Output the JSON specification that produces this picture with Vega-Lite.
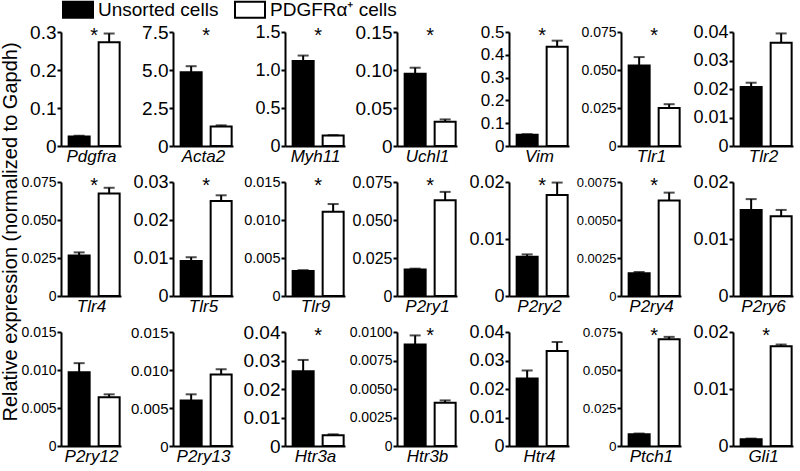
{
"$schema": "https://vega.github.io/schema/vega-lite/v6.json",
"padding": {"left": 0, "top": 0, "right": 2, "bottom": 2},
"background": "white",
"title": {"text": "Relative expression (normalized to Gapdh)", "orient": "left", "anchor": "middle", "fontSize": 20, "fontWeight": "normal", "font": "Liberation Sans", "color": "black", "offset": 0},
"data": {"values": [
{"gene":"Pdgfra","group":"Unsorted cells","mean":0.025,"hi":0.027,"sig":true},
{"gene":"Pdgfra","group":"PDGFRα⁺ cells","mean":0.273,"hi":0.296,"sig":true},
{"gene":"Acta2","group":"Unsorted cells","mean":4.85,"hi":5.25,"sig":true},
{"gene":"Acta2","group":"PDGFRα⁺ cells","mean":1.28,"hi":1.36,"sig":true},
{"gene":"Myh11","group":"Unsorted cells","mean":1.12,"hi":1.19,"sig":true},
{"gene":"Myh11","group":"PDGFRα⁺ cells","mean":0.137,"hi":0.143,"sig":true},
{"gene":"Uchl1","group":"Unsorted cells","mean":0.095,"hi":0.103,"sig":true},
{"gene":"Uchl1","group":"PDGFRα⁺ cells","mean":0.032,"hi":0.035,"sig":true},
{"gene":"Vim","group":"Unsorted cells","mean":0.049,"hi":0.052,"sig":true},
{"gene":"Vim","group":"PDGFRα⁺ cells","mean":0.435,"hi":0.462,"sig":true},
{"gene":"Tlr1","group":"Unsorted cells","mean":0.053,"hi":0.0585,"sig":true},
{"gene":"Tlr1","group":"PDGFRα⁺ cells","mean":0.025,"hi":0.0275,"sig":true},
{"gene":"Tlr2","group":"Unsorted cells","mean":0.0207,"hi":0.0222,"sig":false},
{"gene":"Tlr2","group":"PDGFRα⁺ cells","mean":0.0362,"hi":0.0395,"sig":false},
{"gene":"Tlr4","group":"Unsorted cells","mean":0.0267,"hi":0.0287,"sig":true},
{"gene":"Tlr4","group":"PDGFRα⁺ cells","mean":0.0674,"hi":0.0712,"sig":true},
{"gene":"Tlr5","group":"Unsorted cells","mean":0.0092,"hi":0.0102,"sig":true},
{"gene":"Tlr5","group":"PDGFRα⁺ cells","mean":0.025,"hi":0.0265,"sig":true},
{"gene":"Tlr9","group":"Unsorted cells","mean":0.0033,"hi":0.0034,"sig":true},
{"gene":"Tlr9","group":"PDGFRα⁺ cells","mean":0.0111,"hi":0.0121,"sig":true},
{"gene":"P2ry1","group":"Unsorted cells","mean":0.0174,"hi":0.018,"sig":true},
{"gene":"P2ry1","group":"PDGFRα⁺ cells","mean":0.063,"hi":0.0685,"sig":true},
{"gene":"P2ry2","group":"Unsorted cells","mean":0.0069,"hi":0.0073,"sig":true},
{"gene":"P2ry2","group":"PDGFRα⁺ cells","mean":0.0177,"hi":0.0199,"sig":true},
{"gene":"P2ry4","group":"Unsorted cells","mean":0.0015,"hi":0.00158,"sig":true},
{"gene":"P2ry4","group":"PDGFRα⁺ cells","mean":0.00628,"hi":0.0068,"sig":true},
{"gene":"P2ry6","group":"Unsorted cells","mean":0.0151,"hi":0.017,"sig":false},
{"gene":"P2ry6","group":"PDGFRα⁺ cells","mean":0.014,"hi":0.0151,"sig":false},
{"gene":"P2ry12","group":"Unsorted cells","mean":0.0097,"hi":0.0109,"sig":false},
{"gene":"P2ry12","group":"PDGFRα⁺ cells","mean":0.0064,"hi":0.0068,"sig":false},
{"gene":"P2ry13","group":"Unsorted cells","mean":0.006,"hi":0.0068,"sig":false},
{"gene":"P2ry13","group":"PDGFRα⁺ cells","mean":0.0094,"hi":0.0101,"sig":false},
{"gene":"Htr3a","group":"Unsorted cells","mean":0.0262,"hi":0.0302,"sig":true},
{"gene":"Htr3a","group":"PDGFRα⁺ cells","mean":0.0038,"hi":0.0041,"sig":true},
{"gene":"Htr3b","group":"Unsorted cells","mean":0.0089,"hi":0.0097,"sig":true},
{"gene":"Htr3b","group":"PDGFRα⁺ cells","mean":0.0038,"hi":0.004,"sig":true},
{"gene":"Htr4","group":"Unsorted cells","mean":0.0237,"hi":0.0265,"sig":false},
{"gene":"Htr4","group":"PDGFRα⁺ cells","mean":0.0333,"hi":0.0365,"sig":false},
{"gene":"Ptch1","group":"Unsorted cells","mean":0.0078,"hi":0.0082,"sig":true},
{"gene":"Ptch1","group":"PDGFRα⁺ cells","mean":0.0703,"hi":0.0718,"sig":true},
{"gene":"Gli1","group":"Unsorted cells","mean":0.0012,"hi":0.0013,"sig":true},
{"gene":"Gli1","group":"PDGFRα⁺ cells","mean":0.0175,"hi":0.0178,"sig":true}
]},
"columns": 7,
"spacing": {"row": 36, "column": 52},
"bounds": "flush",
"concat": [
{"transform":[{"filter":"datum.gene==='Pdgfra'"}],"width":60,"height":114,
"encoding":{"x":{"field":"group","type":"nominal","scale":{"domain":["Unsorted cells","PDGFRα⁺ cells"],"paddingInner":0.3,"paddingOuter":0.15,"align":0.85},"axis":{"title":"Pdgfra"}}},
"layer":[
{"mark":{"type":"bar","stroke":"black","strokeWidth":2},"encoding":{"y":{"field":"mean","type":"quantitative","title":null,"scale":{"domain":[0,0.3],"nice":false},"axis":{"values":[0,0.1,0.2,0.3],"format":".1f","labelFontSize":19,"labelOverlap":false,"labelExpr":"datum.value == 0 ? '0' : datum.label"}},"fill":{"field":"group","type":"nominal","title":null,"scale":{"domain":["Unsorted cells","PDGFRα⁺ cells"],"range":["black","white"]}}}},
{"mark":{"type":"rule","strokeWidth":2,"color":"black"},"encoding":{"y":{"field":"mean","type":"quantitative","title":null,"axis":{"values":[0,0.1,0.2,0.3],"format":".1f","labelFontSize":19,"labelOverlap":false,"labelExpr":"datum.value == 0 ? '0' : datum.label"}},"y2":{"field":"hi"}}},
{"mark":{"type":"tick","color":"black","thickness":2,"size":11},"encoding":{"y":{"field":"hi","type":"quantitative","title":null,"axis":{"values":[0,0.1,0.2,0.3],"format":".1f","labelFontSize":19,"labelOverlap":false,"labelExpr":"datum.value == 0 ? '0' : datum.label"}}}},
{"transform":[{"filter":"datum.sig && datum.group==='Unsorted cells'"}],"mark":{"type":"text","text":"*","fontSize":20,"baseline":"top","dy":-6,"color":"black"},"encoding":{"x":{"datum":"Unsorted cells","type":"nominal","bandPosition":1.214},"y":{"datum":0.3,"type":"quantitative","title":null,"axis":{"values":[0,0.1,0.2,0.3],"format":".1f","labelFontSize":19,"labelOverlap":false,"labelExpr":"datum.value == 0 ? '0' : datum.label"}}}}
]},
{"transform":[{"filter":"datum.gene==='Acta2'"}],"width":60,"height":114,
"encoding":{"x":{"field":"group","type":"nominal","scale":{"domain":["Unsorted cells","PDGFRα⁺ cells"],"paddingInner":0.3,"paddingOuter":0.15,"align":0.85},"axis":{"title":"Acta2"}}},
"layer":[
{"mark":{"type":"bar","stroke":"black","strokeWidth":2},"encoding":{"y":{"field":"mean","type":"quantitative","title":null,"scale":{"domain":[0,7.5],"nice":false},"axis":{"values":[0,2.5,5,7.5],"format":".1f","labelFontSize":19,"labelOverlap":false,"labelExpr":"datum.value == 0 ? '0' : datum.label"}},"fill":{"field":"group","type":"nominal","title":null,"scale":{"domain":["Unsorted cells","PDGFRα⁺ cells"],"range":["black","white"]}}}},
{"mark":{"type":"rule","strokeWidth":2,"color":"black"},"encoding":{"y":{"field":"mean","type":"quantitative","title":null,"axis":{"values":[0,2.5,5,7.5],"format":".1f","labelFontSize":19,"labelOverlap":false,"labelExpr":"datum.value == 0 ? '0' : datum.label"}},"y2":{"field":"hi"}}},
{"mark":{"type":"tick","color":"black","thickness":2,"size":11},"encoding":{"y":{"field":"hi","type":"quantitative","title":null,"axis":{"values":[0,2.5,5,7.5],"format":".1f","labelFontSize":19,"labelOverlap":false,"labelExpr":"datum.value == 0 ? '0' : datum.label"}}}},
{"transform":[{"filter":"datum.sig && datum.group==='Unsorted cells'"}],"mark":{"type":"text","text":"*","fontSize":20,"baseline":"top","dy":-6,"color":"black"},"encoding":{"x":{"datum":"Unsorted cells","type":"nominal","bandPosition":1.214},"y":{"datum":7.5,"type":"quantitative","title":null,"axis":{"values":[0,2.5,5,7.5],"format":".1f","labelFontSize":19,"labelOverlap":false,"labelExpr":"datum.value == 0 ? '0' : datum.label"}}}}
]},
{"transform":[{"filter":"datum.gene==='Myh11'"}],"width":60,"height":114,
"encoding":{"x":{"field":"group","type":"nominal","scale":{"domain":["Unsorted cells","PDGFRα⁺ cells"],"paddingInner":0.3,"paddingOuter":0.15,"align":0.85},"axis":{"title":"Myh11"}}},
"layer":[
{"mark":{"type":"bar","stroke":"black","strokeWidth":2},"encoding":{"y":{"field":"mean","type":"quantitative","title":null,"scale":{"domain":[0,1.5],"nice":false},"axis":{"values":[0,0.5,1,1.5],"format":".1f","labelFontSize":18,"labelOverlap":false,"labelExpr":"datum.value == 0 ? '0' : datum.label"}},"fill":{"field":"group","type":"nominal","title":null,"scale":{"domain":["Unsorted cells","PDGFRα⁺ cells"],"range":["black","white"]}}}},
{"mark":{"type":"rule","strokeWidth":2,"color":"black"},"encoding":{"y":{"field":"mean","type":"quantitative","title":null,"axis":{"values":[0,0.5,1,1.5],"format":".1f","labelFontSize":18,"labelOverlap":false,"labelExpr":"datum.value == 0 ? '0' : datum.label"}},"y2":{"field":"hi"}}},
{"mark":{"type":"tick","color":"black","thickness":2,"size":11},"encoding":{"y":{"field":"hi","type":"quantitative","title":null,"axis":{"values":[0,0.5,1,1.5],"format":".1f","labelFontSize":18,"labelOverlap":false,"labelExpr":"datum.value == 0 ? '0' : datum.label"}}}},
{"transform":[{"filter":"datum.sig && datum.group==='Unsorted cells'"}],"mark":{"type":"text","text":"*","fontSize":20,"baseline":"top","dy":-6,"color":"black"},"encoding":{"x":{"datum":"Unsorted cells","type":"nominal","bandPosition":1.214},"y":{"datum":1.5,"type":"quantitative","title":null,"axis":{"values":[0,0.5,1,1.5],"format":".1f","labelFontSize":18,"labelOverlap":false,"labelExpr":"datum.value == 0 ? '0' : datum.label"}}}}
]},
{"transform":[{"filter":"datum.gene==='Uchl1'"}],"width":60,"height":114,
"encoding":{"x":{"field":"group","type":"nominal","scale":{"domain":["Unsorted cells","PDGFRα⁺ cells"],"paddingInner":0.3,"paddingOuter":0.15,"align":0.85},"axis":{"title":"Uchl1"}}},
"layer":[
{"mark":{"type":"bar","stroke":"black","strokeWidth":2},"encoding":{"y":{"field":"mean","type":"quantitative","title":null,"scale":{"domain":[0,0.15],"nice":false},"axis":{"values":[0,0.05,0.1,0.15],"format":".2f","labelFontSize":19,"labelOverlap":false,"labelExpr":"datum.value == 0 ? '0' : datum.label"}},"fill":{"field":"group","type":"nominal","title":null,"scale":{"domain":["Unsorted cells","PDGFRα⁺ cells"],"range":["black","white"]}}}},
{"mark":{"type":"rule","strokeWidth":2,"color":"black"},"encoding":{"y":{"field":"mean","type":"quantitative","title":null,"axis":{"values":[0,0.05,0.1,0.15],"format":".2f","labelFontSize":19,"labelOverlap":false,"labelExpr":"datum.value == 0 ? '0' : datum.label"}},"y2":{"field":"hi"}}},
{"mark":{"type":"tick","color":"black","thickness":2,"size":11},"encoding":{"y":{"field":"hi","type":"quantitative","title":null,"axis":{"values":[0,0.05,0.1,0.15],"format":".2f","labelFontSize":19,"labelOverlap":false,"labelExpr":"datum.value == 0 ? '0' : datum.label"}}}},
{"transform":[{"filter":"datum.sig && datum.group==='Unsorted cells'"}],"mark":{"type":"text","text":"*","fontSize":20,"baseline":"top","dy":-6,"color":"black"},"encoding":{"x":{"datum":"Unsorted cells","type":"nominal","bandPosition":1.214},"y":{"datum":0.15,"type":"quantitative","title":null,"axis":{"values":[0,0.05,0.1,0.15],"format":".2f","labelFontSize":19,"labelOverlap":false,"labelExpr":"datum.value == 0 ? '0' : datum.label"}}}}
]},
{"transform":[{"filter":"datum.gene==='Vim'"}],"width":60,"height":114,
"encoding":{"x":{"field":"group","type":"nominal","scale":{"domain":["Unsorted cells","PDGFRα⁺ cells"],"paddingInner":0.3,"paddingOuter":0.15,"align":0.85},"axis":{"title":"Vim"}}},
"layer":[
{"mark":{"type":"bar","stroke":"black","strokeWidth":2},"encoding":{"y":{"field":"mean","type":"quantitative","title":null,"scale":{"domain":[0,0.5],"nice":false},"axis":{"values":[0,0.1,0.2,0.3,0.4,0.5],"format":".1f","labelFontSize":17,"labelOverlap":false,"labelExpr":"datum.value == 0 ? '0' : datum.label"}},"fill":{"field":"group","type":"nominal","title":null,"scale":{"domain":["Unsorted cells","PDGFRα⁺ cells"],"range":["black","white"]}}}},
{"mark":{"type":"rule","strokeWidth":2,"color":"black"},"encoding":{"y":{"field":"mean","type":"quantitative","title":null,"axis":{"values":[0,0.1,0.2,0.3,0.4,0.5],"format":".1f","labelFontSize":17,"labelOverlap":false,"labelExpr":"datum.value == 0 ? '0' : datum.label"}},"y2":{"field":"hi"}}},
{"mark":{"type":"tick","color":"black","thickness":2,"size":11},"encoding":{"y":{"field":"hi","type":"quantitative","title":null,"axis":{"values":[0,0.1,0.2,0.3,0.4,0.5],"format":".1f","labelFontSize":17,"labelOverlap":false,"labelExpr":"datum.value == 0 ? '0' : datum.label"}}}},
{"transform":[{"filter":"datum.sig && datum.group==='Unsorted cells'"}],"mark":{"type":"text","text":"*","fontSize":20,"baseline":"top","dy":-6,"color":"black"},"encoding":{"x":{"datum":"Unsorted cells","type":"nominal","bandPosition":1.214},"y":{"datum":0.5,"type":"quantitative","title":null,"axis":{"values":[0,0.1,0.2,0.3,0.4,0.5],"format":".1f","labelFontSize":17,"labelOverlap":false,"labelExpr":"datum.value == 0 ? '0' : datum.label"}}}}
]},
{"transform":[{"filter":"datum.gene==='Tlr1'"}],"width":60,"height":114,
"encoding":{"x":{"field":"group","type":"nominal","scale":{"domain":["Unsorted cells","PDGFRα⁺ cells"],"paddingInner":0.3,"paddingOuter":0.15,"align":0.85},"axis":{"title":"Tlr1"}}},
"layer":[
{"mark":{"type":"bar","stroke":"black","strokeWidth":2},"encoding":{"y":{"field":"mean","type":"quantitative","title":null,"scale":{"domain":[0,0.075],"nice":false},"axis":{"values":[0,0.025,0.05,0.075],"format":".3f","labelFontSize":14,"labelOverlap":false,"labelExpr":"datum.value == 0 ? '0' : datum.label"}},"fill":{"field":"group","type":"nominal","title":null,"scale":{"domain":["Unsorted cells","PDGFRα⁺ cells"],"range":["black","white"]}}}},
{"mark":{"type":"rule","strokeWidth":2,"color":"black"},"encoding":{"y":{"field":"mean","type":"quantitative","title":null,"axis":{"values":[0,0.025,0.05,0.075],"format":".3f","labelFontSize":14,"labelOverlap":false,"labelExpr":"datum.value == 0 ? '0' : datum.label"}},"y2":{"field":"hi"}}},
{"mark":{"type":"tick","color":"black","thickness":2,"size":11},"encoding":{"y":{"field":"hi","type":"quantitative","title":null,"axis":{"values":[0,0.025,0.05,0.075],"format":".3f","labelFontSize":14,"labelOverlap":false,"labelExpr":"datum.value == 0 ? '0' : datum.label"}}}},
{"transform":[{"filter":"datum.sig && datum.group==='Unsorted cells'"}],"mark":{"type":"text","text":"*","fontSize":20,"baseline":"top","dy":-6,"color":"black"},"encoding":{"x":{"datum":"Unsorted cells","type":"nominal","bandPosition":1.214},"y":{"datum":0.075,"type":"quantitative","title":null,"axis":{"values":[0,0.025,0.05,0.075],"format":".3f","labelFontSize":14,"labelOverlap":false,"labelExpr":"datum.value == 0 ? '0' : datum.label"}}}}
]},
{"transform":[{"filter":"datum.gene==='Tlr2'"}],"width":60,"height":114,
"encoding":{"x":{"field":"group","type":"nominal","scale":{"domain":["Unsorted cells","PDGFRα⁺ cells"],"paddingInner":0.3,"paddingOuter":0.15,"align":0.85},"axis":{"title":"Tlr2"}}},
"layer":[
{"mark":{"type":"bar","stroke":"black","strokeWidth":2},"encoding":{"y":{"field":"mean","type":"quantitative","title":null,"scale":{"domain":[0,0.04],"nice":false},"axis":{"values":[0,0.01,0.02,0.03,0.04],"format":".2f","labelFontSize":18,"labelOverlap":false,"labelExpr":"datum.value == 0 ? '0' : datum.label"}},"fill":{"field":"group","type":"nominal","title":null,"scale":{"domain":["Unsorted cells","PDGFRα⁺ cells"],"range":["black","white"]}}}},
{"mark":{"type":"rule","strokeWidth":2,"color":"black"},"encoding":{"y":{"field":"mean","type":"quantitative","title":null,"axis":{"values":[0,0.01,0.02,0.03,0.04],"format":".2f","labelFontSize":18,"labelOverlap":false,"labelExpr":"datum.value == 0 ? '0' : datum.label"}},"y2":{"field":"hi"}}},
{"mark":{"type":"tick","color":"black","thickness":2,"size":11},"encoding":{"y":{"field":"hi","type":"quantitative","title":null,"axis":{"values":[0,0.01,0.02,0.03,0.04],"format":".2f","labelFontSize":18,"labelOverlap":false,"labelExpr":"datum.value == 0 ? '0' : datum.label"}}}}
]},
{"transform":[{"filter":"datum.gene==='Tlr4'"}],"width":60,"height":114,
"encoding":{"x":{"field":"group","type":"nominal","scale":{"domain":["Unsorted cells","PDGFRα⁺ cells"],"paddingInner":0.3,"paddingOuter":0.15,"align":0.85},"axis":{"title":"Tlr4"}}},
"layer":[
{"mark":{"type":"bar","stroke":"black","strokeWidth":2},"encoding":{"y":{"field":"mean","type":"quantitative","title":null,"scale":{"domain":[0,0.075],"nice":false},"axis":{"values":[0,0.025,0.05,0.075],"format":".3f","labelFontSize":14,"labelOverlap":false,"labelExpr":"datum.value == 0 ? '0' : datum.label"}},"fill":{"field":"group","type":"nominal","title":null,"scale":{"domain":["Unsorted cells","PDGFRα⁺ cells"],"range":["black","white"]}}}},
{"mark":{"type":"rule","strokeWidth":2,"color":"black"},"encoding":{"y":{"field":"mean","type":"quantitative","title":null,"axis":{"values":[0,0.025,0.05,0.075],"format":".3f","labelFontSize":14,"labelOverlap":false,"labelExpr":"datum.value == 0 ? '0' : datum.label"}},"y2":{"field":"hi"}}},
{"mark":{"type":"tick","color":"black","thickness":2,"size":11},"encoding":{"y":{"field":"hi","type":"quantitative","title":null,"axis":{"values":[0,0.025,0.05,0.075],"format":".3f","labelFontSize":14,"labelOverlap":false,"labelExpr":"datum.value == 0 ? '0' : datum.label"}}}},
{"transform":[{"filter":"datum.sig && datum.group==='Unsorted cells'"}],"mark":{"type":"text","text":"*","fontSize":20,"baseline":"top","dy":-6,"color":"black"},"encoding":{"x":{"datum":"Unsorted cells","type":"nominal","bandPosition":1.214},"y":{"datum":0.075,"type":"quantitative","title":null,"axis":{"values":[0,0.025,0.05,0.075],"format":".3f","labelFontSize":14,"labelOverlap":false,"labelExpr":"datum.value == 0 ? '0' : datum.label"}}}}
]},
{"transform":[{"filter":"datum.gene==='Tlr5'"}],"width":60,"height":114,
"encoding":{"x":{"field":"group","type":"nominal","scale":{"domain":["Unsorted cells","PDGFRα⁺ cells"],"paddingInner":0.3,"paddingOuter":0.15,"align":0.85},"axis":{"title":"Tlr5"}}},
"layer":[
{"mark":{"type":"bar","stroke":"black","strokeWidth":2},"encoding":{"y":{"field":"mean","type":"quantitative","title":null,"scale":{"domain":[0,0.03],"nice":false},"axis":{"values":[0,0.01,0.02,0.03],"format":".2f","labelFontSize":18,"labelOverlap":false,"labelExpr":"datum.value == 0 ? '0' : datum.label"}},"fill":{"field":"group","type":"nominal","title":null,"scale":{"domain":["Unsorted cells","PDGFRα⁺ cells"],"range":["black","white"]}}}},
{"mark":{"type":"rule","strokeWidth":2,"color":"black"},"encoding":{"y":{"field":"mean","type":"quantitative","title":null,"axis":{"values":[0,0.01,0.02,0.03],"format":".2f","labelFontSize":18,"labelOverlap":false,"labelExpr":"datum.value == 0 ? '0' : datum.label"}},"y2":{"field":"hi"}}},
{"mark":{"type":"tick","color":"black","thickness":2,"size":11},"encoding":{"y":{"field":"hi","type":"quantitative","title":null,"axis":{"values":[0,0.01,0.02,0.03],"format":".2f","labelFontSize":18,"labelOverlap":false,"labelExpr":"datum.value == 0 ? '0' : datum.label"}}}},
{"transform":[{"filter":"datum.sig && datum.group==='Unsorted cells'"}],"mark":{"type":"text","text":"*","fontSize":20,"baseline":"top","dy":-6,"color":"black"},"encoding":{"x":{"datum":"Unsorted cells","type":"nominal","bandPosition":1.214},"y":{"datum":0.03,"type":"quantitative","title":null,"axis":{"values":[0,0.01,0.02,0.03],"format":".2f","labelFontSize":18,"labelOverlap":false,"labelExpr":"datum.value == 0 ? '0' : datum.label"}}}}
]},
{"transform":[{"filter":"datum.gene==='Tlr9'"}],"width":60,"height":114,
"encoding":{"x":{"field":"group","type":"nominal","scale":{"domain":["Unsorted cells","PDGFRα⁺ cells"],"paddingInner":0.3,"paddingOuter":0.15,"align":0.85},"axis":{"title":"Tlr9"}}},
"layer":[
{"mark":{"type":"bar","stroke":"black","strokeWidth":2},"encoding":{"y":{"field":"mean","type":"quantitative","title":null,"scale":{"domain":[0,0.015],"nice":false},"axis":{"values":[0,0.005,0.01,0.015],"format":".3f","labelFontSize":14.5,"labelOverlap":false,"labelExpr":"datum.value == 0 ? '0' : datum.label"}},"fill":{"field":"group","type":"nominal","title":null,"scale":{"domain":["Unsorted cells","PDGFRα⁺ cells"],"range":["black","white"]}}}},
{"mark":{"type":"rule","strokeWidth":2,"color":"black"},"encoding":{"y":{"field":"mean","type":"quantitative","title":null,"axis":{"values":[0,0.005,0.01,0.015],"format":".3f","labelFontSize":14.5,"labelOverlap":false,"labelExpr":"datum.value == 0 ? '0' : datum.label"}},"y2":{"field":"hi"}}},
{"mark":{"type":"tick","color":"black","thickness":2,"size":11},"encoding":{"y":{"field":"hi","type":"quantitative","title":null,"axis":{"values":[0,0.005,0.01,0.015],"format":".3f","labelFontSize":14.5,"labelOverlap":false,"labelExpr":"datum.value == 0 ? '0' : datum.label"}}}},
{"transform":[{"filter":"datum.sig && datum.group==='Unsorted cells'"}],"mark":{"type":"text","text":"*","fontSize":20,"baseline":"top","dy":-6,"color":"black"},"encoding":{"x":{"datum":"Unsorted cells","type":"nominal","bandPosition":1.214},"y":{"datum":0.015,"type":"quantitative","title":null,"axis":{"values":[0,0.005,0.01,0.015],"format":".3f","labelFontSize":14.5,"labelOverlap":false,"labelExpr":"datum.value == 0 ? '0' : datum.label"}}}}
]},
{"transform":[{"filter":"datum.gene==='P2ry1'"}],"width":60,"height":114,
"encoding":{"x":{"field":"group","type":"nominal","scale":{"domain":["Unsorted cells","PDGFRα⁺ cells"],"paddingInner":0.3,"paddingOuter":0.15,"align":0.85},"axis":{"title":"P2ry1"}}},
"layer":[
{"mark":{"type":"bar","stroke":"black","strokeWidth":2},"encoding":{"y":{"field":"mean","type":"quantitative","title":null,"scale":{"domain":[0,0.075],"nice":false},"axis":{"values":[0,0.025,0.05,0.075],"format":".3f","labelFontSize":16,"labelOverlap":false,"labelExpr":"datum.value == 0 ? '0' : datum.label"}},"fill":{"field":"group","type":"nominal","title":null,"scale":{"domain":["Unsorted cells","PDGFRα⁺ cells"],"range":["black","white"]}}}},
{"mark":{"type":"rule","strokeWidth":2,"color":"black"},"encoding":{"y":{"field":"mean","type":"quantitative","title":null,"axis":{"values":[0,0.025,0.05,0.075],"format":".3f","labelFontSize":16,"labelOverlap":false,"labelExpr":"datum.value == 0 ? '0' : datum.label"}},"y2":{"field":"hi"}}},
{"mark":{"type":"tick","color":"black","thickness":2,"size":11},"encoding":{"y":{"field":"hi","type":"quantitative","title":null,"axis":{"values":[0,0.025,0.05,0.075],"format":".3f","labelFontSize":16,"labelOverlap":false,"labelExpr":"datum.value == 0 ? '0' : datum.label"}}}},
{"transform":[{"filter":"datum.sig && datum.group==='Unsorted cells'"}],"mark":{"type":"text","text":"*","fontSize":20,"baseline":"top","dy":-6,"color":"black"},"encoding":{"x":{"datum":"Unsorted cells","type":"nominal","bandPosition":1.214},"y":{"datum":0.075,"type":"quantitative","title":null,"axis":{"values":[0,0.025,0.05,0.075],"format":".3f","labelFontSize":16,"labelOverlap":false,"labelExpr":"datum.value == 0 ? '0' : datum.label"}}}}
]},
{"transform":[{"filter":"datum.gene==='P2ry2'"}],"width":60,"height":114,
"encoding":{"x":{"field":"group","type":"nominal","scale":{"domain":["Unsorted cells","PDGFRα⁺ cells"],"paddingInner":0.3,"paddingOuter":0.15,"align":0.85},"axis":{"title":"P2ry2"}}},
"layer":[
{"mark":{"type":"bar","stroke":"black","strokeWidth":2},"encoding":{"y":{"field":"mean","type":"quantitative","title":null,"scale":{"domain":[0,0.02],"nice":false},"axis":{"values":[0,0.01,0.02],"format":".2f","labelFontSize":18,"labelOverlap":false,"labelExpr":"datum.value == 0 ? '0' : datum.label"}},"fill":{"field":"group","type":"nominal","title":null,"scale":{"domain":["Unsorted cells","PDGFRα⁺ cells"],"range":["black","white"]}}}},
{"mark":{"type":"rule","strokeWidth":2,"color":"black"},"encoding":{"y":{"field":"mean","type":"quantitative","title":null,"axis":{"values":[0,0.01,0.02],"format":".2f","labelFontSize":18,"labelOverlap":false,"labelExpr":"datum.value == 0 ? '0' : datum.label"}},"y2":{"field":"hi"}}},
{"mark":{"type":"tick","color":"black","thickness":2,"size":11},"encoding":{"y":{"field":"hi","type":"quantitative","title":null,"axis":{"values":[0,0.01,0.02],"format":".2f","labelFontSize":18,"labelOverlap":false,"labelExpr":"datum.value == 0 ? '0' : datum.label"}}}},
{"transform":[{"filter":"datum.sig && datum.group==='Unsorted cells'"}],"mark":{"type":"text","text":"*","fontSize":20,"baseline":"top","dy":-6,"color":"black"},"encoding":{"x":{"datum":"Unsorted cells","type":"nominal","bandPosition":1.214},"y":{"datum":0.02,"type":"quantitative","title":null,"axis":{"values":[0,0.01,0.02],"format":".2f","labelFontSize":18,"labelOverlap":false,"labelExpr":"datum.value == 0 ? '0' : datum.label"}}}}
]},
{"transform":[{"filter":"datum.gene==='P2ry4'"}],"width":60,"height":114,
"encoding":{"x":{"field":"group","type":"nominal","scale":{"domain":["Unsorted cells","PDGFRα⁺ cells"],"paddingInner":0.3,"paddingOuter":0.15,"align":0.85},"axis":{"title":"P2ry4"}}},
"layer":[
{"mark":{"type":"bar","stroke":"black","strokeWidth":2},"encoding":{"y":{"field":"mean","type":"quantitative","title":null,"scale":{"domain":[0,0.0075],"nice":false},"axis":{"values":[0,0.0025,0.005,0.0075],"format":".4f","labelFontSize":13,"labelOverlap":false,"labelExpr":"datum.value == 0 ? '0' : datum.label"}},"fill":{"field":"group","type":"nominal","title":null,"scale":{"domain":["Unsorted cells","PDGFRα⁺ cells"],"range":["black","white"]}}}},
{"mark":{"type":"rule","strokeWidth":2,"color":"black"},"encoding":{"y":{"field":"mean","type":"quantitative","title":null,"axis":{"values":[0,0.0025,0.005,0.0075],"format":".4f","labelFontSize":13,"labelOverlap":false,"labelExpr":"datum.value == 0 ? '0' : datum.label"}},"y2":{"field":"hi"}}},
{"mark":{"type":"tick","color":"black","thickness":2,"size":11},"encoding":{"y":{"field":"hi","type":"quantitative","title":null,"axis":{"values":[0,0.0025,0.005,0.0075],"format":".4f","labelFontSize":13,"labelOverlap":false,"labelExpr":"datum.value == 0 ? '0' : datum.label"}}}},
{"transform":[{"filter":"datum.sig && datum.group==='Unsorted cells'"}],"mark":{"type":"text","text":"*","fontSize":20,"baseline":"top","dy":-6,"color":"black"},"encoding":{"x":{"datum":"Unsorted cells","type":"nominal","bandPosition":1.214},"y":{"datum":0.0075,"type":"quantitative","title":null,"axis":{"values":[0,0.0025,0.005,0.0075],"format":".4f","labelFontSize":13,"labelOverlap":false,"labelExpr":"datum.value == 0 ? '0' : datum.label"}}}}
]},
{"transform":[{"filter":"datum.gene==='P2ry6'"}],"width":60,"height":114,
"encoding":{"x":{"field":"group","type":"nominal","scale":{"domain":["Unsorted cells","PDGFRα⁺ cells"],"paddingInner":0.3,"paddingOuter":0.15,"align":0.85},"axis":{"title":"P2ry6"}}},
"layer":[
{"mark":{"type":"bar","stroke":"black","strokeWidth":2},"encoding":{"y":{"field":"mean","type":"quantitative","title":null,"scale":{"domain":[0,0.02],"nice":false},"axis":{"values":[0,0.01,0.02],"format":".2f","labelFontSize":18,"labelOverlap":false,"labelExpr":"datum.value == 0 ? '0' : datum.label"}},"fill":{"field":"group","type":"nominal","title":null,"scale":{"domain":["Unsorted cells","PDGFRα⁺ cells"],"range":["black","white"]}}}},
{"mark":{"type":"rule","strokeWidth":2,"color":"black"},"encoding":{"y":{"field":"mean","type":"quantitative","title":null,"axis":{"values":[0,0.01,0.02],"format":".2f","labelFontSize":18,"labelOverlap":false,"labelExpr":"datum.value == 0 ? '0' : datum.label"}},"y2":{"field":"hi"}}},
{"mark":{"type":"tick","color":"black","thickness":2,"size":11},"encoding":{"y":{"field":"hi","type":"quantitative","title":null,"axis":{"values":[0,0.01,0.02],"format":".2f","labelFontSize":18,"labelOverlap":false,"labelExpr":"datum.value == 0 ? '0' : datum.label"}}}}
]},
{"transform":[{"filter":"datum.gene==='P2ry12'"}],"width":60,"height":114,
"encoding":{"x":{"field":"group","type":"nominal","scale":{"domain":["Unsorted cells","PDGFRα⁺ cells"],"paddingInner":0.3,"paddingOuter":0.15,"align":0.85},"axis":{"title":"P2ry12"}}},
"layer":[
{"mark":{"type":"bar","stroke":"black","strokeWidth":2},"encoding":{"y":{"field":"mean","type":"quantitative","title":null,"scale":{"domain":[0,0.015],"nice":false},"axis":{"values":[0,0.005,0.01,0.015],"format":".3f","labelFontSize":14,"labelOverlap":false,"labelExpr":"datum.value == 0 ? '0' : datum.label"}},"fill":{"field":"group","type":"nominal","title":null,"scale":{"domain":["Unsorted cells","PDGFRα⁺ cells"],"range":["black","white"]}}}},
{"mark":{"type":"rule","strokeWidth":2,"color":"black"},"encoding":{"y":{"field":"mean","type":"quantitative","title":null,"axis":{"values":[0,0.005,0.01,0.015],"format":".3f","labelFontSize":14,"labelOverlap":false,"labelExpr":"datum.value == 0 ? '0' : datum.label"}},"y2":{"field":"hi"}}},
{"mark":{"type":"tick","color":"black","thickness":2,"size":11},"encoding":{"y":{"field":"hi","type":"quantitative","title":null,"axis":{"values":[0,0.005,0.01,0.015],"format":".3f","labelFontSize":14,"labelOverlap":false,"labelExpr":"datum.value == 0 ? '0' : datum.label"}}}}
]},
{"transform":[{"filter":"datum.gene==='P2ry13'"}],"width":60,"height":114,
"encoding":{"x":{"field":"group","type":"nominal","scale":{"domain":["Unsorted cells","PDGFRα⁺ cells"],"paddingInner":0.3,"paddingOuter":0.15,"align":0.85},"axis":{"title":"P2ry13"}}},
"layer":[
{"mark":{"type":"bar","stroke":"black","strokeWidth":2},"encoding":{"y":{"field":"mean","type":"quantitative","title":null,"scale":{"domain":[0,0.015],"nice":false},"axis":{"values":[0,0.005,0.01,0.015],"format":".3f","labelFontSize":15,"labelOverlap":false,"labelExpr":"datum.value == 0 ? '0' : datum.label"}},"fill":{"field":"group","type":"nominal","title":null,"scale":{"domain":["Unsorted cells","PDGFRα⁺ cells"],"range":["black","white"]}}}},
{"mark":{"type":"rule","strokeWidth":2,"color":"black"},"encoding":{"y":{"field":"mean","type":"quantitative","title":null,"axis":{"values":[0,0.005,0.01,0.015],"format":".3f","labelFontSize":15,"labelOverlap":false,"labelExpr":"datum.value == 0 ? '0' : datum.label"}},"y2":{"field":"hi"}}},
{"mark":{"type":"tick","color":"black","thickness":2,"size":11},"encoding":{"y":{"field":"hi","type":"quantitative","title":null,"axis":{"values":[0,0.005,0.01,0.015],"format":".3f","labelFontSize":15,"labelOverlap":false,"labelExpr":"datum.value == 0 ? '0' : datum.label"}}}}
]},
{"transform":[{"filter":"datum.gene==='Htr3a'"}],"width":60,"height":114,
"encoding":{"x":{"field":"group","type":"nominal","scale":{"domain":["Unsorted cells","PDGFRα⁺ cells"],"paddingInner":0.3,"paddingOuter":0.15,"align":0.85},"axis":{"title":"Htr3a"}}},
"layer":[
{"mark":{"type":"bar","stroke":"black","strokeWidth":2},"encoding":{"y":{"field":"mean","type":"quantitative","title":null,"scale":{"domain":[0,0.04],"nice":false},"axis":{"values":[0,0.01,0.02,0.03,0.04],"format":".2f","labelFontSize":19,"labelOverlap":false,"labelExpr":"datum.value == 0 ? '0' : datum.label"}},"fill":{"field":"group","type":"nominal","title":null,"scale":{"domain":["Unsorted cells","PDGFRα⁺ cells"],"range":["black","white"]}}}},
{"mark":{"type":"rule","strokeWidth":2,"color":"black"},"encoding":{"y":{"field":"mean","type":"quantitative","title":null,"axis":{"values":[0,0.01,0.02,0.03,0.04],"format":".2f","labelFontSize":19,"labelOverlap":false,"labelExpr":"datum.value == 0 ? '0' : datum.label"}},"y2":{"field":"hi"}}},
{"mark":{"type":"tick","color":"black","thickness":2,"size":11},"encoding":{"y":{"field":"hi","type":"quantitative","title":null,"axis":{"values":[0,0.01,0.02,0.03,0.04],"format":".2f","labelFontSize":19,"labelOverlap":false,"labelExpr":"datum.value == 0 ? '0' : datum.label"}}}},
{"transform":[{"filter":"datum.sig && datum.group==='Unsorted cells'"}],"mark":{"type":"text","text":"*","fontSize":20,"baseline":"top","dy":-6,"color":"black"},"encoding":{"x":{"datum":"Unsorted cells","type":"nominal","bandPosition":1.214},"y":{"datum":0.04,"type":"quantitative","title":null,"axis":{"values":[0,0.01,0.02,0.03,0.04],"format":".2f","labelFontSize":19,"labelOverlap":false,"labelExpr":"datum.value == 0 ? '0' : datum.label"}}}}
]},
{"transform":[{"filter":"datum.gene==='Htr3b'"}],"width":60,"height":114,
"encoding":{"x":{"field":"group","type":"nominal","scale":{"domain":["Unsorted cells","PDGFRα⁺ cells"],"paddingInner":0.3,"paddingOuter":0.15,"align":0.85},"axis":{"title":"Htr3b"}}},
"layer":[
{"mark":{"type":"bar","stroke":"black","strokeWidth":2},"encoding":{"y":{"field":"mean","type":"quantitative","title":null,"scale":{"domain":[0,0.01],"nice":false},"axis":{"values":[0,0.0025,0.005,0.0075,0.01],"format":".4f","labelFontSize":14,"labelOverlap":false,"labelExpr":"datum.value == 0 ? '0' : datum.label"}},"fill":{"field":"group","type":"nominal","title":null,"scale":{"domain":["Unsorted cells","PDGFRα⁺ cells"],"range":["black","white"]}}}},
{"mark":{"type":"rule","strokeWidth":2,"color":"black"},"encoding":{"y":{"field":"mean","type":"quantitative","title":null,"axis":{"values":[0,0.0025,0.005,0.0075,0.01],"format":".4f","labelFontSize":14,"labelOverlap":false,"labelExpr":"datum.value == 0 ? '0' : datum.label"}},"y2":{"field":"hi"}}},
{"mark":{"type":"tick","color":"black","thickness":2,"size":11},"encoding":{"y":{"field":"hi","type":"quantitative","title":null,"axis":{"values":[0,0.0025,0.005,0.0075,0.01],"format":".4f","labelFontSize":14,"labelOverlap":false,"labelExpr":"datum.value == 0 ? '0' : datum.label"}}}},
{"transform":[{"filter":"datum.sig && datum.group==='Unsorted cells'"}],"mark":{"type":"text","text":"*","fontSize":20,"baseline":"top","dy":-6,"color":"black"},"encoding":{"x":{"datum":"Unsorted cells","type":"nominal","bandPosition":1.214},"y":{"datum":0.01,"type":"quantitative","title":null,"axis":{"values":[0,0.0025,0.005,0.0075,0.01],"format":".4f","labelFontSize":14,"labelOverlap":false,"labelExpr":"datum.value == 0 ? '0' : datum.label"}}}}
]},
{"transform":[{"filter":"datum.gene==='Htr4'"}],"width":60,"height":114,
"encoding":{"x":{"field":"group","type":"nominal","scale":{"domain":["Unsorted cells","PDGFRα⁺ cells"],"paddingInner":0.3,"paddingOuter":0.15,"align":0.85},"axis":{"title":"Htr4"}}},
"layer":[
{"mark":{"type":"bar","stroke":"black","strokeWidth":2},"encoding":{"y":{"field":"mean","type":"quantitative","title":null,"scale":{"domain":[0,0.04],"nice":false},"axis":{"values":[0,0.01,0.02,0.03,0.04],"format":".2f","labelFontSize":18,"labelOverlap":false,"labelExpr":"datum.value == 0 ? '0' : datum.label"}},"fill":{"field":"group","type":"nominal","title":null,"scale":{"domain":["Unsorted cells","PDGFRα⁺ cells"],"range":["black","white"]}}}},
{"mark":{"type":"rule","strokeWidth":2,"color":"black"},"encoding":{"y":{"field":"mean","type":"quantitative","title":null,"axis":{"values":[0,0.01,0.02,0.03,0.04],"format":".2f","labelFontSize":18,"labelOverlap":false,"labelExpr":"datum.value == 0 ? '0' : datum.label"}},"y2":{"field":"hi"}}},
{"mark":{"type":"tick","color":"black","thickness":2,"size":11},"encoding":{"y":{"field":"hi","type":"quantitative","title":null,"axis":{"values":[0,0.01,0.02,0.03,0.04],"format":".2f","labelFontSize":18,"labelOverlap":false,"labelExpr":"datum.value == 0 ? '0' : datum.label"}}}}
]},
{"transform":[{"filter":"datum.gene==='Ptch1'"}],"width":60,"height":114,
"encoding":{"x":{"field":"group","type":"nominal","scale":{"domain":["Unsorted cells","PDGFRα⁺ cells"],"paddingInner":0.3,"paddingOuter":0.15,"align":0.85},"axis":{"title":"Ptch1"}}},
"layer":[
{"mark":{"type":"bar","stroke":"black","strokeWidth":2},"encoding":{"y":{"field":"mean","type":"quantitative","title":null,"scale":{"domain":[0,0.075],"nice":false},"axis":{"values":[0,0.025,0.05,0.075],"format":".3f","labelFontSize":13.5,"labelOverlap":false,"labelExpr":"datum.value == 0 ? '0' : datum.label"}},"fill":{"field":"group","type":"nominal","title":null,"scale":{"domain":["Unsorted cells","PDGFRα⁺ cells"],"range":["black","white"]}}}},
{"mark":{"type":"rule","strokeWidth":2,"color":"black"},"encoding":{"y":{"field":"mean","type":"quantitative","title":null,"axis":{"values":[0,0.025,0.05,0.075],"format":".3f","labelFontSize":13.5,"labelOverlap":false,"labelExpr":"datum.value == 0 ? '0' : datum.label"}},"y2":{"field":"hi"}}},
{"mark":{"type":"tick","color":"black","thickness":2,"size":11},"encoding":{"y":{"field":"hi","type":"quantitative","title":null,"axis":{"values":[0,0.025,0.05,0.075],"format":".3f","labelFontSize":13.5,"labelOverlap":false,"labelExpr":"datum.value == 0 ? '0' : datum.label"}}}},
{"transform":[{"filter":"datum.sig && datum.group==='Unsorted cells'"}],"mark":{"type":"text","text":"*","fontSize":20,"baseline":"top","dy":-6,"color":"black"},"encoding":{"x":{"datum":"Unsorted cells","type":"nominal","bandPosition":1.214},"y":{"datum":0.075,"type":"quantitative","title":null,"axis":{"values":[0,0.025,0.05,0.075],"format":".3f","labelFontSize":13.5,"labelOverlap":false,"labelExpr":"datum.value == 0 ? '0' : datum.label"}}}}
]},
{"transform":[{"filter":"datum.gene==='Gli1'"}],"width":60,"height":114,
"encoding":{"x":{"field":"group","type":"nominal","scale":{"domain":["Unsorted cells","PDGFRα⁺ cells"],"paddingInner":0.3,"paddingOuter":0.15,"align":0.85},"axis":{"title":"Gli1"}}},
"layer":[
{"mark":{"type":"bar","stroke":"black","strokeWidth":2},"encoding":{"y":{"field":"mean","type":"quantitative","title":null,"scale":{"domain":[0,0.02],"nice":false},"axis":{"values":[0,0.01,0.02],"format":".2f","labelFontSize":18,"labelOverlap":false,"labelExpr":"datum.value == 0 ? '0' : datum.label"}},"fill":{"field":"group","type":"nominal","title":null,"scale":{"domain":["Unsorted cells","PDGFRα⁺ cells"],"range":["black","white"]}}}},
{"mark":{"type":"rule","strokeWidth":2,"color":"black"},"encoding":{"y":{"field":"mean","type":"quantitative","title":null,"axis":{"values":[0,0.01,0.02],"format":".2f","labelFontSize":18,"labelOverlap":false,"labelExpr":"datum.value == 0 ? '0' : datum.label"}},"y2":{"field":"hi"}}},
{"mark":{"type":"tick","color":"black","thickness":2,"size":11},"encoding":{"y":{"field":"hi","type":"quantitative","title":null,"axis":{"values":[0,0.01,0.02],"format":".2f","labelFontSize":18,"labelOverlap":false,"labelExpr":"datum.value == 0 ? '0' : datum.label"}}}},
{"transform":[{"filter":"datum.sig && datum.group==='Unsorted cells'"}],"mark":{"type":"text","text":"*","fontSize":20,"baseline":"top","dy":-6,"color":"black"},"encoding":{"x":{"datum":"Unsorted cells","type":"nominal","bandPosition":1.214},"y":{"datum":0.02,"type":"quantitative","title":null,"axis":{"values":[0,0.01,0.02],"format":".2f","labelFontSize":18,"labelOverlap":false,"labelExpr":"datum.value == 0 ? '0' : datum.label"}}}}
]}
],
"config": {
"font": "Liberation Sans",
"view": {"stroke": null},
"axis": {"domainColor": "black", "domainWidth": 2, "tickColor": "black", "tickWidth": 2, "tickSize": 4, "labelColor": "black", "labelFont": "Liberation Sans", "titleFont": "Liberation Sans", "grid": false, "labelPadding": 1},
"axisX": {"labels": false, "ticks": false, "titleFontStyle": "italic", "titleFontSize": 17, "titleFontWeight": "normal", "titlePadding": 2, "titleColor": "black"},
"axisY": {"labelOverlap": false, "labelFlush": false},
"legend": {"orient": "top", "direction": "horizontal", "symbolType": "M-1,-1.07H3V1.07H-1Z", "symbolSize": 225, "symbolStrokeColor": "black", "symbolStrokeWidth": 2, "labelFontSize": 19, "labelFont": "Liberation Sans", "labelColor": "black", "labelOffset": 18, "columnPadding": 12, "offset": 1, "padding": 0}
}
}
